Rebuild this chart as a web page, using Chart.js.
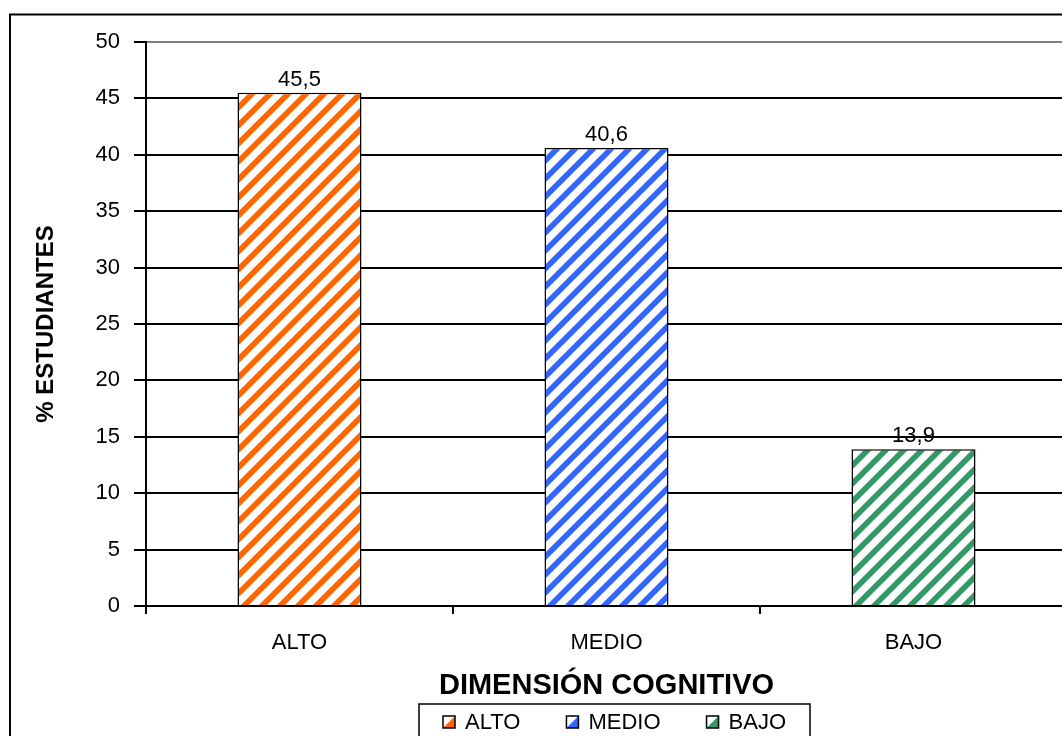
<!DOCTYPE html>
<html>
<head>
<meta charset="utf-8">
<script src="https://cdn.jsdelivr.net/npm/chart.js@4/dist/chart.umd.min.js"></script>
<style>
  html, body { margin: 0; padding: 0; overflow: hidden; background: #fff; width: 1062px; height: 736px; }
  canvas { display: block; }
</style>
</head>
<body>
<canvas id="chart" width="1080" height="760"></canvas>
<script>
// Data
const categories = ['ALTO', 'MEDIO', 'BAJO'];
const percentages = [45.5, 40.6, 13.9];
const barColors = ['#FF6600', '#3366FF', '#339966'];
const yTickValues = [0, 5, 10, 15, 20, 25, 30, 35, 40, 45, 50];

const FONT = '"Liberation Sans", Arial, sans-serif';
Chart.defaults.font.family = FONT;
Chart.defaults.color = '#000';

// Diagonal "/" hatch used to fill the bars, built per pixel so the tile repeats without seams
function stripes(color) {
  const s = 18, band = 8, ss = 4;
  const c = document.createElement('canvas');
  c.width = c.height = s;
  const g = c.getContext('2d');
  const img = g.createImageData(s, s);
  const r = parseInt(color.slice(1, 3), 16);
  const gr = parseInt(color.slice(3, 5), 16);
  const b = parseInt(color.slice(5, 7), 16);
  for (let y = 0; y < s; y++) {
    for (let x = 0; x < s; x++) {
      let cov = 0;
      for (let sy = 0; sy < ss; sy++) {
        for (let sx = 0; sx < ss; sx++) {
          const d = ((x + (sx + 0.5) / ss) + (y + (sy + 0.5) / ss)) % s;
          if (d < band) cov++;
        }
      }
      const a = cov / (ss * ss);
      const k = (y * s + x) * 4;
      img.data[k] = Math.round(255 + (r - 255) * a);
      img.data[k + 1] = Math.round(255 + (gr - 255) * a);
      img.data[k + 2] = Math.round(255 + (b - 255) * a);
      img.data[k + 3] = 255;
    }
  }
  g.putImageData(img, 0, 0);
  return g.createPattern(c, 'repeat');
}

const fmt = v => v.toFixed(1).replace('.', ',');

// White background and outer frame
const frame = {
  id: 'frame',
  beforeDraw(chart) {
    const { ctx, width, height } = chart;
    ctx.save();
    ctx.fillStyle = '#fff';
    ctx.fillRect(0, 0, width, height);
    ctx.strokeStyle = '#000';
    ctx.lineWidth = 2;
    ctx.strokeRect(10, 14.5, width + 100, height + 100);
    ctx.restore();
  }
};

// Value above each bar
const valueLabels = {
  id: 'valueLabels',
  afterDatasetsDraw(chart) {
    const { ctx } = chart;
    const meta = chart.getDatasetMeta(0);
    const data = chart.data.datasets[0].data;
    ctx.save();
    ctx.font = '22px ' + FONT;
    ctx.fillStyle = '#000';
    ctx.textAlign = 'center';
    ctx.textBaseline = 'bottom';
    meta.data.forEach((bar, i) => {
      ctx.fillText(fmt(data[i]), bar.x, bar.y - 2);
    });
    ctx.restore();
  }
};

// Boxed legend under the axis title
const legendBox = {
  id: 'legendBox',
  afterDraw(chart) {
    const { ctx } = chart;
    const labels = chart.data.labels;
    ctx.save();
    ctx.font = '22px ' + FONT;
    const mark = 12, gapText = 10, gapItem = 46, pad = 24;
    let total = 0;
    labels.forEach((l, i) => {
      total += mark + gapText + ctx.measureText(l).width;
      if (i < labels.length - 1) total += gapItem;
    });
    const boxLeft = 419;
    const boxTop = 704;
    ctx.strokeStyle = '#000';
    ctx.lineWidth = 1.5;
    ctx.strokeRect(boxLeft, boxTop, total + pad * 2, 200);
    let x = boxLeft + pad;
    const cy = 722;
    labels.forEach((l, i) => {
      const x0 = x, y0 = cy - mark / 2;
      ctx.fillStyle = '#fff';
      ctx.fillRect(x0, y0, mark, mark);
      ctx.fillStyle = barColors[i];
      ctx.beginPath();
      ctx.moveTo(x0 + mark, y0);
      ctx.lineTo(x0 + mark, y0 + mark);
      ctx.lineTo(x0, y0 + mark);
      ctx.closePath();
      ctx.fill();
      ctx.strokeStyle = '#000';
      ctx.lineWidth = 1.5;
      ctx.strokeRect(x0, y0, mark, mark);
      x += mark + gapText;
      ctx.fillStyle = '#000';
      ctx.textAlign = 'left';
      ctx.textBaseline = 'middle';
      ctx.fillText(l, x, cy + 1);
      x += ctx.measureText(l).width + gapItem;
    });
    ctx.restore();
  }
};

new Chart(document.getElementById('chart'), {
  type: 'bar',
  data: {
    labels: categories,
    datasets: [{
      data: percentages,
      backgroundColor: barColors.map(stripes),
      borderColor: '#000',
      borderWidth: 1.5,
      categoryPercentage: 1,
      barPercentage: 0.404
    }]
  },
  options: {
    responsive: false,
    animation: false,
    events: [],
    layout: { padding: { top: 42, left: 0, right: 13, bottom: 56 } },
    plugins: { legend: { display: false }, tooltip: { enabled: false } },
    scales: {
      x: {
        grid: { offset: true, drawOnChartArea: false, color: '#000', lineWidth: 2, tickLength: 8 },
        border: { color: '#000', width: 2 },
        ticks: { color: '#000', font: { size: 22 }, padding: 16, maxRotation: 0 },
        title: {
          display: true, text: 'DIMENSIÓN COGNITIVO', color: '#000',
          font: { size: 29, weight: 'bold' }, padding: { top: 0, bottom: 1 }
        },
        afterFit(s) { s.height = 98; }
      },
      y: {
        min: 0,
        max: 50,
        afterBuildTicks(s) { s.ticks = yTickValues.map(v => ({ value: v })); },
        ticks: { color: '#000', font: { size: 22 }, padding: 14 },
        grid: {
          color: c => (c.tick && c.tick.value === 50 ? '#808080' : '#000'),
          tickColor: '#000',
          lineWidth: 2,
          tickLength: 12
        },
        border: { color: '#000', width: 2 },
        title: {
          display: true, text: '% ESTUDIANTES', color: '#000',
          font: { size: 24, weight: 'bold' }, padding: { top: 32, bottom: 0 }
        },
        afterFit(s) { s.width = 146; }
      }
    }
  },
  plugins: [frame, valueLabels, legendBox]
});
</script>
</body>
</html>
